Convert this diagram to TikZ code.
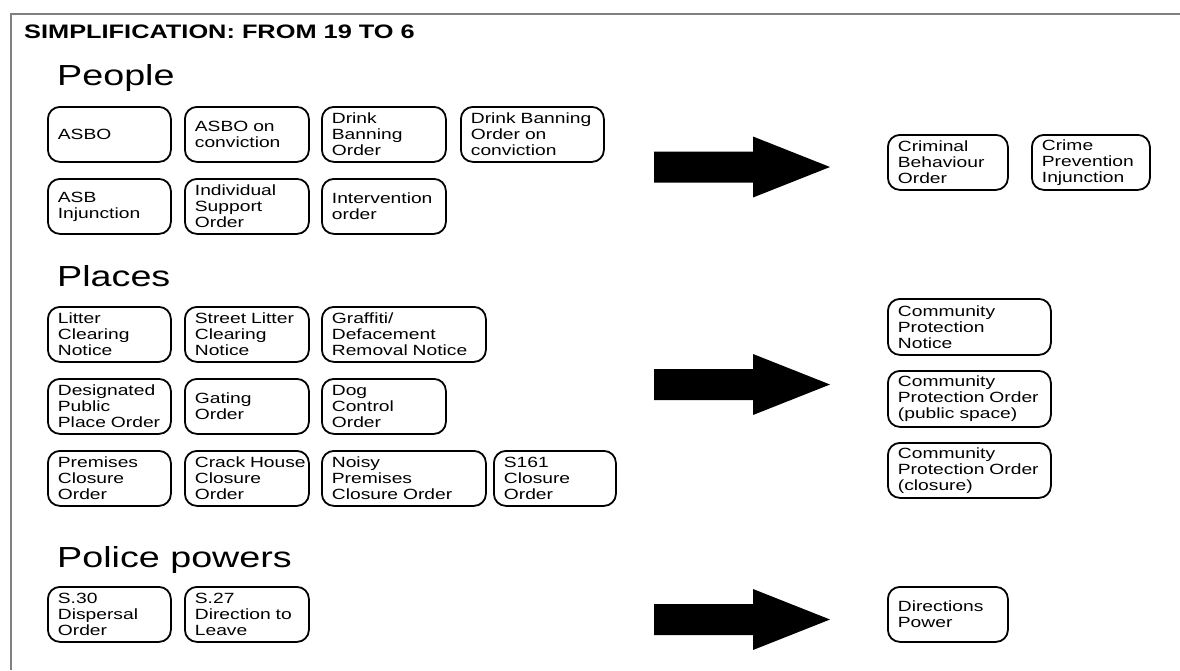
\documentclass[tikz,border=0pt]{standalone}
\usepackage{fontspec}
\setmainfont{Liberation Sans}
\newfontfamily\bxfont[FakeStretch=1.3]{Liberation Sans}
\tikzset{
  bx/.style={draw=black, line width=1.8pt, rounded corners=12pt, anchor=north west,
    inner xsep=10pt, inner ysep=0pt, align=left,
    font=\bxfont\fontsize{14.8}{16}\selectfont},
  heading/.style={anchor=base west, inner sep=0pt, font=\bxfont\fontsize{29}{34}\selectfont},
  titlestyle/.style={anchor=base west, inner sep=0pt, font=\bxfont\bfseries\fontsize{19.5}{22}\selectfont},
  frameline/.style={draw=black!50, line width=2pt},
  blockarrow/.style={fill=black}
}
\newcommand\bbox[6]{%
  \pgfmathsetmacro\bw{#4-#2}%
  \pgfmathsetmacro\bh{#5-#3}%
  \pgfmathsetmacro\tw{#4-#2-20}%
  \node[bx, minimum width=\bw pt, minimum height=\bh pt, text width=\tw pt] (#1) at (#2,#3) {#6};%
}
\begin{document}
\begin{tikzpicture}[x=1pt,y=-1pt]
\useasboundingbox (0,0) rectangle (1180,670);
\fill[white] (0,0) rectangle (1180,670);
% frame
\coordinate (fb) at (10.5,670);
\coordinate (fc) at (10.5,13.5);
\coordinate (fr) at (1180,13.5);
\draw[frameline] (fb) -- (fc) -- (fr);
% title and headings
\node[titlestyle] (title) at (24,38) {SIMPLIFICATION: FROM 19 TO 6};
\node[heading] (hpeople) at (57,85) {People};
\node[heading] (hplaces) at (57,286) {Places};
\node[heading] (hpolice) at (57,567) {Police powers};
% People
\bbox{asbo}{47}{106}{170}{161}{ASBO}
\bbox{asboc}{184}{106}{308}{161}{ASBO~on\\conviction}
\bbox{dbo}{321}{106}{445}{161}{Drink\\Banning\\Order}
\bbox{dboc}{460}{106}{603}{161}{Drink~Banning\\Order~on\\conviction}
\bbox{asbi}{47}{178}{170}{233}{ASB\\Injunction}
\bbox{iso}{184}{178}{308}{233}{Individual\\Support\\Order}
\bbox{io}{321}{178}{445}{233}{Intervention\\order}
% Places
\bbox{lcn}{47}{306}{170}{361}{Litter\\Clearing\\Notice}
\bbox{slcn}{184}{306}{308}{361}{Street~Litter\\Clearing\\Notice}
\bbox{gdrn}{321}{306}{485}{361}{Graffiti/\\Defacement\\Removal~Notice}
\bbox{dppo}{47}{378}{170}{433}{Designated\\Public\\Place~Order}
\bbox{gat}{184}{378}{308}{433}{Gating\\Order}
\bbox{dco}{321}{378}{445}{433}{Dog\\Control\\Order}
\bbox{pco}{47}{450}{170}{505}{Premises\\Closure\\Order}
\bbox{chco}{184}{450}{308}{505}{Crack~House\\Closure\\Order}
\bbox{npco}{321}{450}{485}{505}{Noisy\\Premises\\Closure~Order}
\bbox{sco}{493}{450}{615}{505}{S161\\Closure\\Order}
% Police powers
\bbox{sdo}{47}{586}{170}{641}{S.30\\Dispersal\\Order}
\bbox{sdl}{184}{586}{308}{641}{S.27\\Direction~to\\Leave}
% Results
\bbox{cbo}{887}{134}{1007}{189}{Criminal\\Behaviour\\Order}
\bbox{cpi}{1031}{134}{1149}{189}{Crime\\Prevention\\Injunction}
\bbox{cpn}{887}{298}{1050}{354}{Community\\Protection\\Notice}
\bbox{cpop}{887}{370}{1050}{426}{Community\\Protection~Order\\(public~space)}
\bbox{cpoc}{887}{442}{1050}{497}{Community\\Protection~Order\\(closure)}
\bbox{dpw}{887}{586}{1007}{641}{Directions\\Power}
% block arrows
\coordinate (ar1) at (654,167);
\coordinate (ar2) at (654,384.5);
\coordinate (ar3) at (654,619.5);
\foreach \c in {ar1,ar2,ar3}{
  \fill[blockarrow] (\c) ++(0,-15.5) -- ++(99,0) -- ++(0,-15) -- ++(77,30.5)
    -- ++(-77,30.5) -- ++(0,-15) -- ++(-99,0) -- cycle;
}
\end{tikzpicture}
\end{document}
